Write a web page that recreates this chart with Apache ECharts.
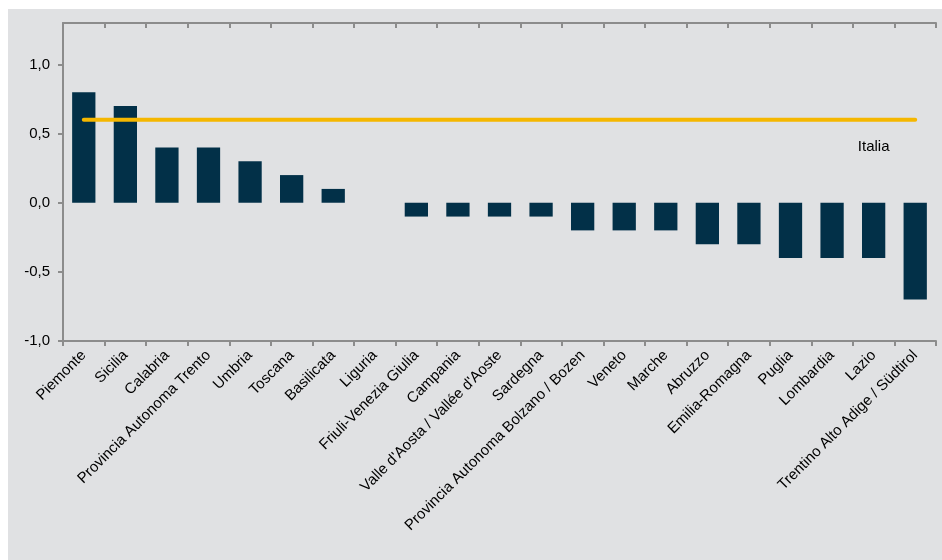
<!DOCTYPE html>
<html><head><meta charset="utf-8">
<script src="https://cdn.jsdelivr.net/npm/echarts@6/dist/echarts.min.js"></script>
<style>html,body{margin:0;padding:0;background:#fff}#c{position:absolute;left:8px;top:9px;width:934px;height:551px;background:#e0e1e3}</style>
</head><body><div id="c"></div>
<script>
const categories = ["Piemonte","Sicilia","Calabria","Provincia Autonoma Trento","Umbria","Toscana","Basilicata","Liguria","Friuli-Venezia Giulia","Campania","Valle d'Aosta / Vallée d'Aoste","Sardegna","Provincia Autonoma Bolzano / Bozen","Veneto","Marche","Abruzzo","Emilia-Romagna","Puglia","Lombardia","Lazio","Trentino Alto Adige / Südtirol"];
const regionValues = [0.8,0.7,0.4,0.4,0.3,0.2,0.1,0,-0.1,-0.1,-0.1,-0.1,-0.2,-0.2,-0.2,-0.3,-0.3,-0.4,-0.4,-0.4,-0.7];
const italiaValue = 0.6;
const italiaLabel = "Italia";
const yTicks = [-1.0,-0.5,0,0.5,1.0];

const chart = echarts.init(document.getElementById('c'));
const font = 'Liberation Sans, Arial, sans-serif';
const labelIdx = categories.length - 2;
const italiaData = categories.map((c,i)=>({value: italiaValue, label: {show: i===labelIdx}}));
const axisColor = '#8c8c8c';
chart.setOption({
  animation:false,
  grid:{left:55,right:6,top:14,bottom:219,containLabel:false},
  xAxis:[
    {type:'category',data:categories,position:'bottom',axisLine:{show:false},axisTick:{show:false},
     axisLabel:{rotate:45,interval:0,fontFamily:font,fontSize:15,color:'#000',margin:12}},
    {type:'category',data:categories,position:'bottom',axisLine:{show:true,onZero:true,lineStyle:{color:axisColor,width:2}},
     axisTick:{show:true,interval:0,length:5,lineStyle:{color:axisColor,width:2}},axisLabel:{show:false}},
    {type:'category',data:categories,position:'top',axisLine:{show:true,onZero:true,lineStyle:{color:axisColor,width:2}},
     axisTick:{show:true,interval:0,inside:true,length:5,lineStyle:{color:axisColor,width:2}},axisLabel:{show:false}}
  ],
  yAxis:{type:'value',min:-1.0,max:1.3,
    axisLine:{show:true,lineStyle:{color:axisColor,width:2}},
    axisTick:{show:true,length:5,customValues:yTicks,lineStyle:{color:axisColor,width:2}},
    axisLabel:{customValues:yTicks,fontFamily:font,fontSize:15,color:'#000',margin:13,
      formatter:v=>v.toFixed(1).replace('.',',')},
    splitLine:{show:false}},
  series:[
    {type:'bar',data:regionValues,barWidth:'56%',itemStyle:{color:'#023048',borderWidth:0}},
    {type:'line',data:italiaData,symbol:'circle',symbolSize:1,showSymbol:true,itemStyle:{color:'#f5b700'},
     lineStyle:{color:'#f5b700',width:4,cap:'round'},
     label:{formatter:italiaLabel,position:'bottom',distance:19,fontFamily:font,fontSize:15,color:'#000'}}
  ]
});
</script></body></html>
